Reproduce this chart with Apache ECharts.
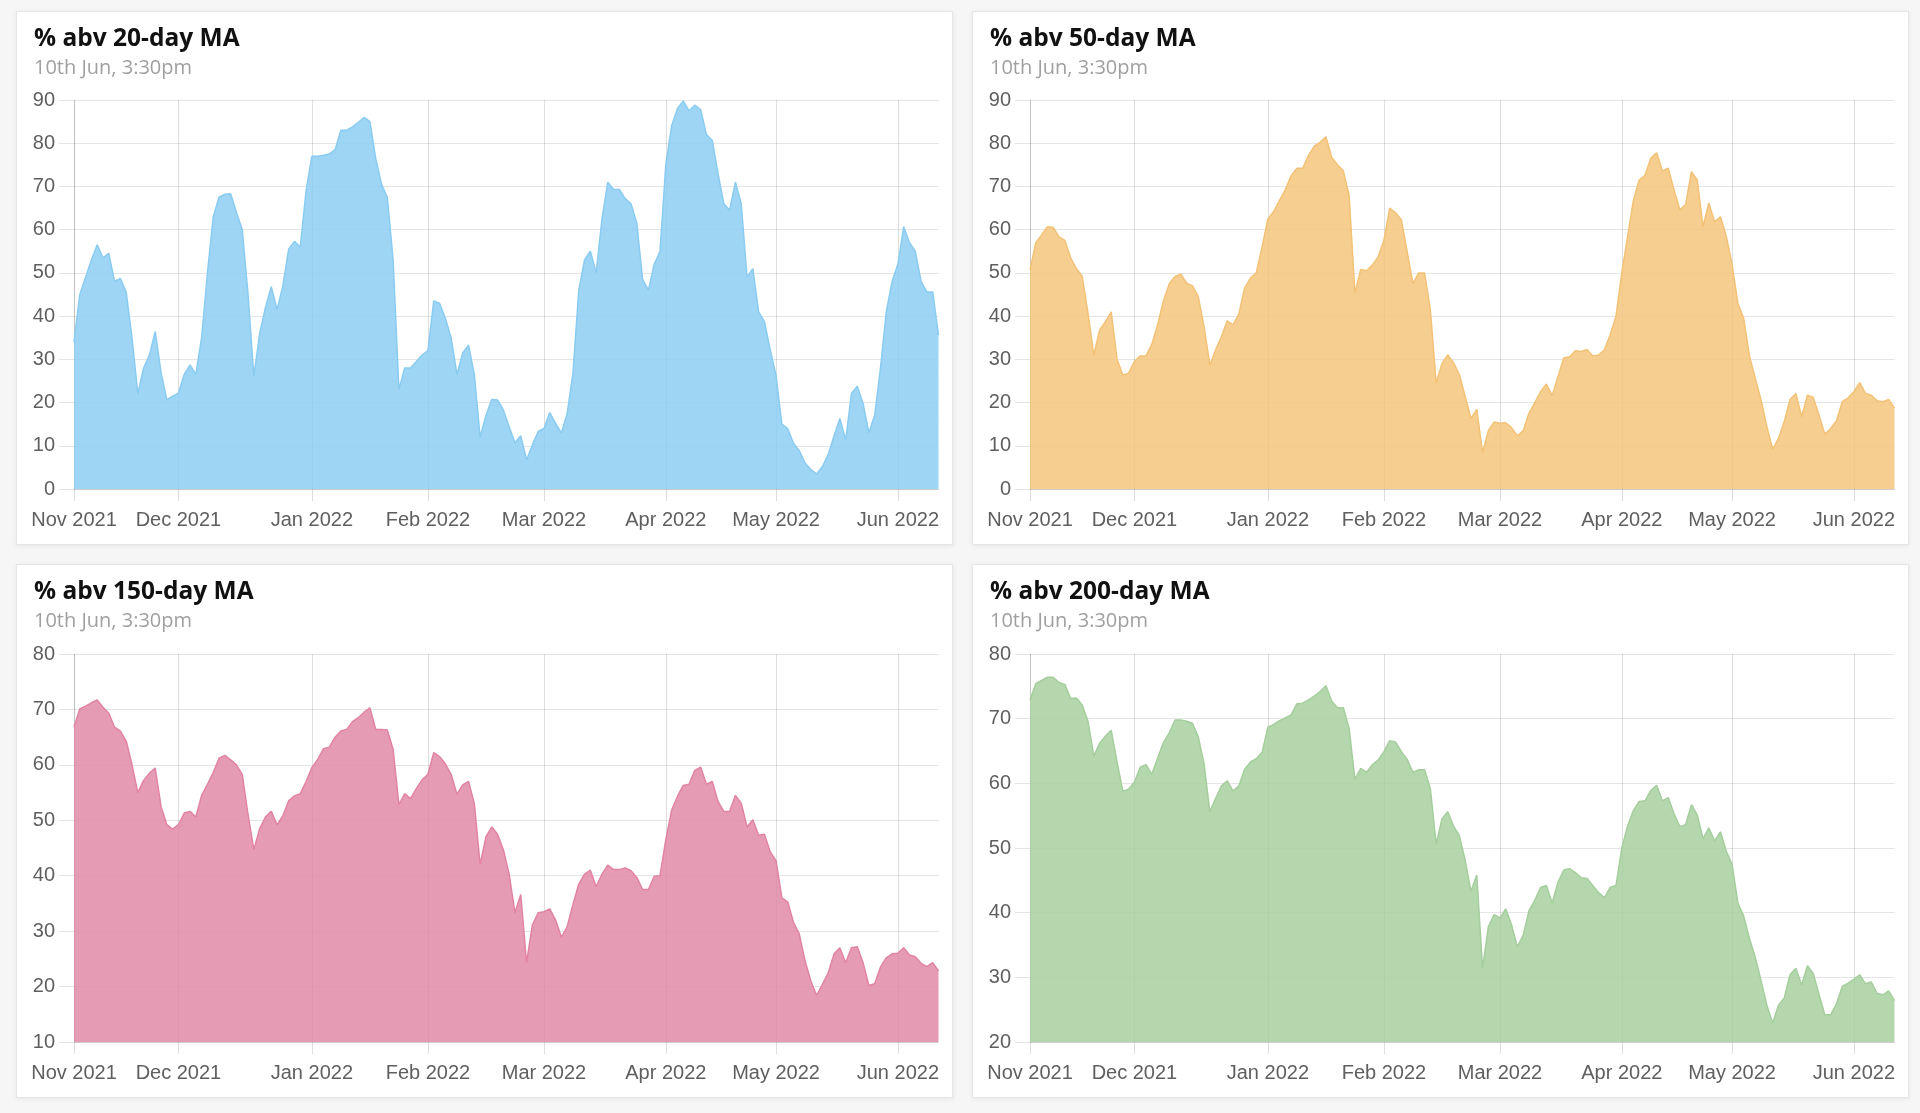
<!DOCTYPE html>
<html>
<head>
<meta charset="utf-8">
<script src="https://cdn.jsdelivr.net/npm/echarts@6/dist/echarts.min.js"></script>
<style>
html,body{margin:0;padding:0;background:#f6f6f6;width:1920px;height:1113px;overflow:hidden;}
.card{position:absolute;width:937px;height:534px;background:#fff;border:1px solid #e6e6e6;box-sizing:border-box;box-shadow:0 1px 5px rgba(0,0,0,0.07);}
.card .chart{position:absolute;left:0;top:0;width:935px;height:532px;}
</style>
</head>
<body>
<div class="card" style="left:16px;top:11px"><div class="chart" id="c0"></div></div>
<div class="card" style="left:972px;top:11px"><div class="chart" id="c1"></div></div>
<div class="card" style="left:16px;top:564px"><div class="chart" id="c2"></div></div>
<div class="card" style="left:972px;top:564px"><div class="chart" id="c3"></div></div>
<script>
// ---- Categories: NSE trading days, Nov 2021 – 10 Jun 2022 ----
const MONTH_LABELS = ['Nov 2021','Dec 2021','Jan 2022','Feb 2022','Mar 2022','Apr 2022','May 2022','Jun 2022'];
const MONTH_DAYS = [
  [2,3,8,9,10,11,12,15,16,17,18,22,23,24,25,26,29,30],
  [1,2,3,6,7,8,9,10,13,14,15,16,17,20,21,22,23,24,27,28,29,30,31],
  [3,4,5,6,7,10,11,12,13,14,17,18,19,20,21,24,25,27,28,31],
  [1,2,3,4,7,8,9,10,11,14,15,16,17,18,21,22,23,24,25,28],
  [2,3,4,7,8,9,10,11,14,15,16,17,21,22,23,24,25,28,29,30,31],
  [1,4,5,6,7,8,11,12,13,18,19,20,21,22,25,26,27,28,29],
  [2,4,5,6,9,10,11,12,13,16,17,18,19,20,23,24,25,26,27,30,31],
  [1,2,3,6,7,8,9,10]
];

// ---- Series values (% of stocks above moving average) ----
const ABV_20 = [34,45,49,53,56.5,53.5,54.5,48,48.7,45.5,35,22,28,31,36.4,27,20.6,21.5,22.2,26.5,
  28.7,26.5,35,50,63,67.5,68.2,68.3,64,60,45,26,36,42,46.8,41.5,47,55.5,57.3,56,
  69,77,77,77.2,77.5,78.5,83,83,83.8,84.8,86,85,76.5,70.5,67.5,53,23,28,28,29.5,
  31,32,43.5,43,39.5,35,26.5,31.5,33.3,26.5,12,17,20.7,20.6,18.3,14.4,10.7,12.3,6.7,10.2,
  13.3,14,17.7,15.2,12.9,17.5,26.8,46,53,55,50,62.5,71,69.3,69.3,67.2,66,61.5,48.5,46,
  52,55,75,84,88,89.8,87.5,88.8,87.8,82,80.7,73,66,64.5,71,66,49,51,41,38.7,
  32.2,26.3,15,14,10.6,8.9,6,4.5,3.5,5.2,8,12.3,16.3,11.3,22.1,23.8,19.8,13,17,28,
  41,48,52,60.7,57,55,48,45.6,45.6,35.6];
const ABV_50 = [50.7,57,58.8,60.7,60.5,58.3,57.5,53.5,51,49.2,40.6,31,36.8,38.7,41,30,26.4,26.8,29.5,30.8,
  30.8,33.5,38,43.5,47.5,49.2,49.7,47.6,47,44.5,37.5,28.7,32.2,35.3,38.9,38,40.5,46.5,48.8,50,
  56,62.5,64.2,66.8,69.2,72.5,74.2,74.2,77.2,79.3,80.2,81.5,76.7,75,73.6,68,45.3,50.8,50.5,51.8,
  53.7,57.6,65,63.9,62.3,55,47.5,50,50,41.5,24.5,29,31,29.2,26.5,21.4,16.3,18.4,8.4,13.5,
  15.5,15.2,15.3,14.2,12.3,13.5,17.5,20,22.5,24.3,21.6,26,30.3,30.6,32,31.8,32.3,30.8,31,32.2,
  35.7,40,50,58.4,66.8,71.5,72.6,76.5,77.8,73.6,74.2,69.2,64.6,65.8,73.4,71.5,60.7,66.2,61.8,63,
  58.5,52,43,39.5,30.8,25.6,20.6,14.4,9.2,11.7,15.6,20.7,22.1,16.7,21.7,21.2,17,12.7,14,15.8,
  20.2,21.1,22.5,24.6,22.1,21.7,20.4,20.2,20.7,18.7];
const ABV_150 = [66.9,70.1,70.6,71.2,71.7,70.4,69.3,66.8,66.1,64.3,60,55,57.2,58.5,59.4,52.5,49.2,48.4,49.2,51.3,
  51.6,50.6,54.5,56.5,58.6,61.2,61.7,60.9,60,58.3,51,44.7,48.5,50.6,51.6,49.2,50.8,53.5,54.4,54.8,
  57,59.5,61,62.9,63.2,65,66.1,66.4,67.8,68.5,69.5,70.3,66.4,66.4,66.3,62.8,52.8,54.8,53.9,55.7,
  57.3,58.3,62.2,61.5,60.2,58.3,54.7,56.4,57,53,42,47,48.8,47.5,44.7,40.3,33.3,36.6,24.3,31.1,
  33.3,33.5,34,32,28.9,30.8,34.8,38.5,40.3,41,38,40.3,41.9,41.1,41.1,41.4,40.9,39.7,37.5,37.5,
  39.9,40,46.5,51.8,54.3,56.3,56.5,59,59.6,56.5,57,53.4,51.6,51.6,54.5,53.1,48.8,50.1,47.3,47.5,
  44.3,42.7,36,35.3,31.6,29.5,24.6,21,18.4,20.4,22.5,25.9,27,24.3,27,27.2,24.3,20.2,20.5,23.5,
  25.2,25.9,26,27,25.7,25.4,24.2,23.6,24.3,22.8];
const ABV_200 = [72.9,75.4,75.9,76.4,76.4,75.6,75.3,73.1,73.2,72.1,69.6,64.2,66.2,67.3,68.2,63.3,58.8,59.1,60.2,62.5,
  62.9,61.4,63.9,66.3,67.8,69.8,69.8,69.6,69.3,67.2,63,55.6,57.7,59.6,60.4,58.8,59.6,62.2,63.3,63.8,
  64.8,68.7,69.1,69.7,70.1,70.6,72.3,72.4,72.9,73.5,74.2,75.1,72.7,71.7,71.7,68.5,60.6,62.3,61.7,62.9,
  63.6,64.9,66.6,66.4,64.9,63.7,61.7,62.1,62.1,59.2,50.6,54.5,55.6,53.4,51.9,48.1,43.3,45.8,31.4,37.8,
  39.7,39.2,40.6,38.1,34.7,36.5,40.3,41.9,43.9,44.2,41.5,44.7,46.6,46.8,46.2,45.4,45.3,44.2,43.1,42.3,
  43.9,44.2,50,53.4,55.8,57.2,57.3,58.9,59.7,57.3,57.8,55.3,53.3,53.6,56.7,55.1,51.4,53.1,51.1,52.5,
  49.5,47.5,41.5,39.5,36,33.1,29.5,25.7,22.9,25.7,26.8,30.4,31.4,28.8,31.8,30.6,27.3,24.2,24.2,25.9,
  28.6,29.1,29.7,30.4,29,29.3,27.5,27.3,27.9,26.4];

const TITLES = ['% abv 20-day MA','% abv 50-day MA','% abv 150-day MA','% abv 200-day MA'];
const SUBTITLE = '10th Jun, 3:30pm';
const Y_MIN = [0,0,10,20];
const Y_MAX = [90,90,80,80];

// ---- build category list and month starts ----
const CATEGORIES = [];
const MONTH_START = {};
MONTH_DAYS.forEach((days, m) => {
  days.forEach((d, k) => {
    if (k === 0) MONTH_START[CATEGORIES.length] = MONTH_LABELS[m];
    CATEGORIES.push(d + ' ' + MONTH_LABELS[m]);
  });
});
const isMonthStart = (idx) => MONTH_START.hasOwnProperty(idx);

const SERIES = [ABV_20, ABV_50, ABV_150, ABV_200];
const STYLES = [
  {fill:'rgb(141,206,242)', line:'rgb(138,204,241)'},
  {fill:'rgb(244,198,124)', line:'rgb(243,194,118)'},
  {fill:'rgb(226,137,168)', line:'rgb(225,132,164)'},
  {fill:'rgb(168,208,160)', line:'rgb(164,206,156)'}
];
const GRID_TOP = [88, 88, 89, 89];
const GRID_H = [389, 389, 388, 388];

const LABEL_FONT = '"Liberation Sans", Arial, Helvetica, sans-serif';
const TITLE_FONT = '"Open Sans", "Noto Sans", sans-serif';

SERIES.forEach((data, p) => {
  const chart = echarts.init(document.getElementById('c' + p), null, {renderer: 'canvas'});
  chart.setOption({
    animation: false,
    title: {
      text: TITLES[p],
      subtext: SUBTITLE,
      left: 12,
      top: 10,
      itemGap: 6,
      textStyle: {fontFamily: TITLE_FONT, fontSize: 24.5, fontWeight: 'bold', color: '#111'},
      subtextStyle: {fontFamily: TITLE_FONT, fontSize: 20, color: '#a0a0a0'}
    },
    grid: {left: 57, right: 13.5, top: GRID_TOP[p], height: GRID_H[p], containLabel: false},
    xAxis: {
      type: 'category',
      boundaryGap: false,
      data: CATEGORIES,
      axisLine: {show: true, lineStyle: {color: 'rgba(0,0,0,0.1)', width: 1}},
      axisTick: {show: true, length: 12, interval: (i) => isMonthStart(i), lineStyle: {color: 'rgba(0,0,0,0.13)'}},
      splitLine: {show: true, interval: (i) => isMonthStart(i), lineStyle: {color: 'rgba(0,0,0,0.13)', width: 1}},
      axisLabel: {
        interval: (i) => isMonthStart(i),
        formatter: (v, i) => MONTH_START[i] || '',
        margin: 21,
        color: '#5f5f5f',
        fontSize: 20,
        fontFamily: LABEL_FONT,
        hideOverlap: false
      }
    },
    yAxis: {
      type: 'value',
      min: Y_MIN[p],
      max: Y_MAX[p],
      interval: 10,
      axisLine: {show: true, lineStyle: {color: 'rgba(0,0,0,0.13)'}},
      axisTick: {show: true, length: 15, lineStyle: {color: 'rgba(0,0,0,0.1)'}},
      splitLine: {show: true, lineStyle: {color: 'rgba(0,0,0,0.1)', width: 1}},
      axisLabel: {margin: 19, color: '#5f5f5f', fontSize: 20, fontFamily: LABEL_FONT}
    },
    series: [{
      type: 'line',
      data: data,
      symbol: 'none',
      smooth: false,
      lineStyle: {width: 1.5, color: STYLES[p].line},
      areaStyle: {color: STYLES[p].fill, opacity: 0.85},
      z: 3
    }]
  });
});
</script>
</body>
</html>
